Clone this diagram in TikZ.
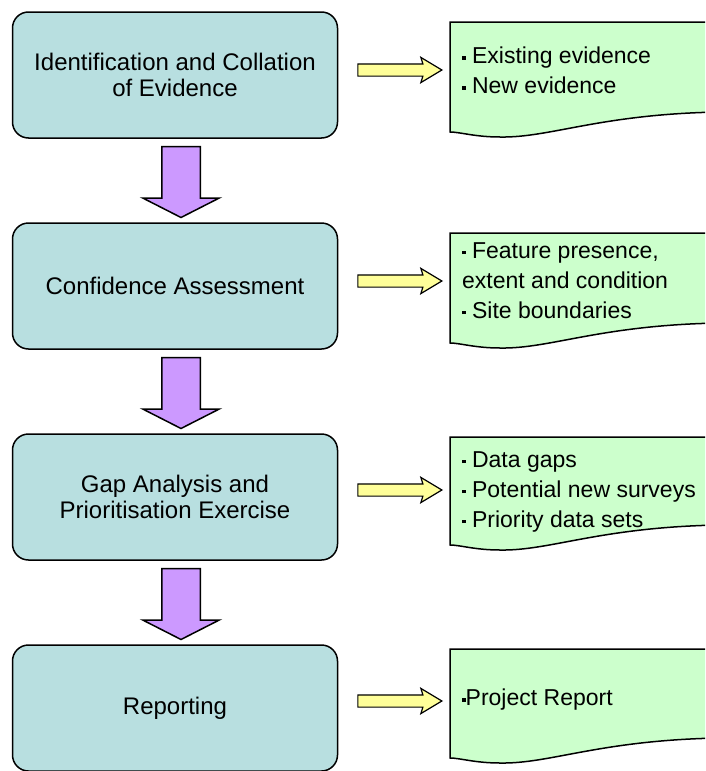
\documentclass[tikz,border=0pt]{standalone}
\usepackage{fontspec}
\setmainfont{Liberation Sans}
\usetikzlibrary{shapes.arrows,calc,positioning}

\definecolor{stageblue}{RGB}{184,223,224}
\definecolor{flowpurple}{RGB}{204,153,255}
\definecolor{noteyellow}{RGB}{255,255,153}
\definecolor{notegreen}{RGB}{204,255,204}

\newcommand\notebullet{\raisebox{0.32ex}{\rule{3.5pt}{3.5pt}}}

\tikzset{
  stage/.style={rectangle,rounded corners=16pt,draw,line width=1.5pt,fill=stageblue,
    minimum width=325pt,minimum height=126pt,align=center,font=\fontsize{24}{26}\selectfont},
  downarrow/.style={single arrow,draw,line width=1.5pt,fill=flowpurple,shape border rotate=270,
    minimum height=71pt,minimum width=75pt,single arrow head extend=19pt,
    single arrow tip angle=126,inner sep=18.5pt,anchor=tail},
  sidearrow/.style={single arrow,draw,line width=1.2pt,fill=noteyellow,
    minimum height=84pt,minimum width=24pt,single arrow head extend=6.5pt,
    single arrow tip angle=62,single arrow head indent=2pt,inner sep=5.5pt,anchor=tail},
  notetext/.style={anchor=north west,align=left,inner sep=0pt,font=\fontsize{23}{30}\selectfont},
  pics/notedoc/.style={code={
    \draw[line width=1.5pt,fill=notegreen] (0,0) -- (270,0) -- (270,-#1+20)
      .. controls (150,-#1+18) and (100,-#1-6) .. (50,-#1-5)
      .. controls (25,-#1-5) and (10,-#1) .. (0,-#1) -- cycle;}}
}

\begin{document}
\begin{tikzpicture}[x=1pt,y=1pt,node distance=211pt]
  \useasboundingbox (0,0) rectangle (705,-771);
  \clip (0,0) rectangle (705,-771);

  % stages
  \path (175,-75) node[stage] (ident) {Identification and Collation\\of Evidence};
  \path node[stage,below of=ident] (conf) {Confidence Assessment};
  \path node[stage,below of=conf] (gap) {Gap Analysis and\\Prioritisation Exercise};
  \path node[stage,below of=gap] (report) {Reporting};

  % flow between the stages
  \path node[downarrow] (flowa) at ($(ident.south)+(6,-7)$) {};
  \path node[downarrow] (flowb) at ($(conf.south)+(6,-7)$) {};
  \path node[downarrow] (flowc) at ($(gap.south)+(6,-7)$) {};

  % outputs of each stage
  \path (450,-22) pic {notedoc=110};
  \path (450,-233) pic {notedoc=110};
  \path (450,-437) pic {notedoc=108};
  \path (450,-649) pic {notedoc=109};

  \path node[sidearrow] (outa) at ($(ident.east)+(19,5)$) {};
  \path node[sidearrow] (outb) at ($(conf.east)+(19,5)$) {};
  \path node[sidearrow] (outc) at ($(gap.east)+(19,7)$) {};
  \path node[sidearrow] (outd) at ($(report.east)+(19,7)$) {};

  \path (462,-47) node[notetext] (evid) {\notebullet\ Existing evidence\\\notebullet\ New evidence};
  \path (462,-242) node[notetext] (feat) {\notebullet\ Feature presence,\\extent and condition\\\notebullet\ Site boundaries};
  \path (462,-451) node[notetext] (gaps) {\notebullet\ Data gaps\\\notebullet\ Potential new surveys\\\notebullet\ Priority data sets};
  \path (462,-689) node[notetext] (proj) {\notebullet Project Report};
\end{tikzpicture}
\end{document}
